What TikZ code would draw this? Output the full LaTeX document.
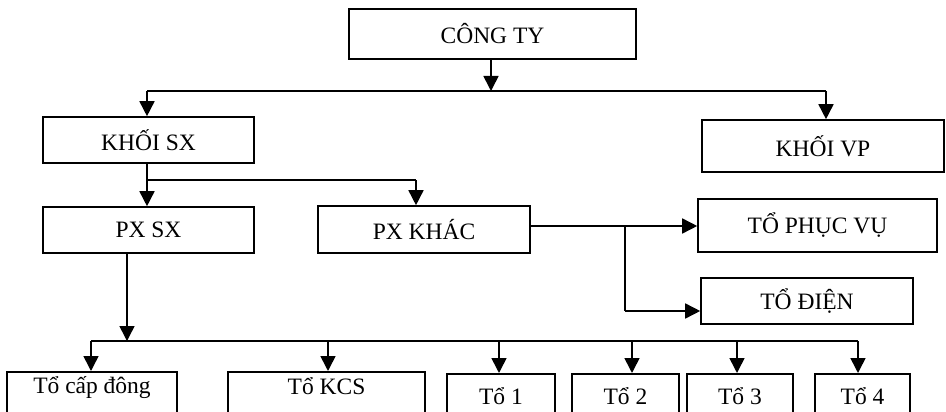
\documentclass[tikz,border=0pt]{standalone}
\usepackage{fontspec}
\setmainfont{Liberation Serif}
\usetikzlibrary{arrows.meta,calc}
\begin{document}
\begin{tikzpicture}[x=1pt,y=-1pt,
  box/.style={draw, line width=1.6pt, inner sep=0pt, font=\fontsize{23.5}{26}\selectfont},
  cutbox/.style={draw, line width=1.6pt, anchor=north, inner xsep=0pt, text depth=60pt,
     font=\fontsize{23.5}{26}\selectfont, text height=16pt},
  ln/.style={line width=1.6pt},
  arr/.style={line width=1.6pt, -{Triangle[length=15pt,width=15pt]}}]
\clip (0,0) rectangle (946,412);
\fill[white] (0,0) rectangle (946,412);
% boxes
\node[box, minimum width=287, minimum height=50] (cong) at (492.5,34) {CÔNG TY};
\node[box, minimum width=211, minimum height=46] (ksx) at (148.5,140) {KHỐI SX};
\node[box, minimum width=242, minimum height=52] (kvp) at (823,146) {KHỐI VP};
\node[box, minimum width=211, minimum height=46] (pxsx) at (148.5,230) {PX SX};
\node[box, minimum width=212, minimum height=47] (pxk) at (424,229.5) {PX KHÁC};
\node[box, minimum width=239, minimum height=53] (tpv) at (817.5,225.5) {TỔ PHỤC VỤ};
\node[box, minimum width=212, minimum height=46] (tdien) at (807,301) {TỔ ĐIỆN};
% bottom row (cut by the frame)
\node[cutbox, minimum width=170, inner ysep=6pt] (t0) at (92,371) {Tổ cấp đông};
\node[cutbox, minimum width=197, inner ysep=7pt] (tk) at (326.5,371) {Tổ KCS};
\node[cutbox, minimum width=108, inner ysep=15pt] (t1) at (501,373) {Tổ 1};
\node[cutbox, minimum width=107, inner ysep=15pt] (t2) at (625.5,373) {Tổ 2};
\node[cutbox, minimum width=106, inner ysep=15pt] (t3) at (740,373) {Tổ 3};
\node[cutbox, minimum width=95, inner ysep=15pt] (t4) at (862.5,373) {Tổ 4};
% bus coordinates
\coordinate (b1) at (491,91);
\coordinate (b1l) at (147,91);
\coordinate (b1r) at (826,91);
\coordinate (b2) at (147,180);
\coordinate (b2r) at (416,180);
\coordinate (br1) at (625,226);
\coordinate (br2) at (625,311);
\coordinate (pd) at (127,253);
\coordinate (b3) at (127,341);
\coordinate (d0) at (91,341);
\coordinate (dk) at (328,341);
\coordinate (d1) at (499,341);
\coordinate (d2) at (632,341);
\coordinate (d3) at (737,341);
\coordinate (d4) at (858,341);
% connectors
\draw[arr] (cong.south -| b1) -- (b1);
\draw[ln] (b1l) -- (b1r);
\draw[arr] (b1l) -- (ksx.north -| b1l);
\draw[arr] (b1r) -- (kvp.north -| b1r);
\draw[arr] (ksx.south -| b2) -- (pxsx.north -| b2);
\draw[ln] (b2) -- (b2r);
\draw[arr] (b2r) -- (pxk.north -| b2r);
\draw[arr] (pxk.east |- br1) -- (tpv.west |- br1);
\draw[ln] (br1) -- (br2);
\draw[arr] (br2) -- (tdien.west |- br2);
\draw[arr] (pd) -- (b3);
\draw[ln] (d0) -- (d4);
\draw[arr] (d0) -- (t0.north -| d0);
\draw[arr] (dk) -- (tk.north -| dk);
\draw[arr] (d1) -- (t1.north -| d1);
\draw[arr] (d2) -- (t2.north -| d2);
\draw[arr] (d3) -- (t3.north -| d3);
\draw[arr] (d4) -- (t4.north -| d4);
\end{tikzpicture}
\end{document}
